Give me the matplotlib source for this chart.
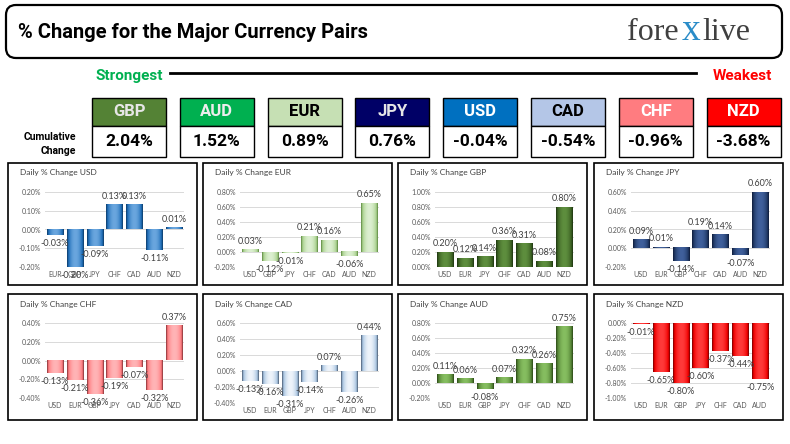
import numpy as np
import matplotlib
matplotlib.use("Agg")
import matplotlib.pyplot as plt
import matplotlib.transforms as mtransforms
from matplotlib.patches import Rectangle, FancyBboxPatch
from matplotlib.lines import Line2D
from matplotlib.colors import LinearSegmentedColormap

# ---------------- data ----------------
currencies = ["GBP", "AUD", "EUR", "JPY", "USD", "CAD", "CHF", "NZD"]
cumulative = [2.04, 1.52, 0.89, 0.76, -0.04, -0.54, -0.96, -3.68]

usd_pairs = ["EUR", "GBP", "JPY", "CHF", "CAD", "AUD", "NZD"]
usd_change = [-0.03, -0.20, -0.09, 0.13, 0.13, -0.11, 0.01]
usd_ticks = [-0.20, -0.10, 0.00, 0.10, 0.20]

eur_pairs = ["USD", "GBP", "JPY", "CHF", "CAD", "AUD", "NZD"]
eur_change = [0.03, -0.12, -0.01, 0.21, 0.16, -0.06, 0.65]
eur_ticks = [-0.20, 0.00, 0.20, 0.40, 0.60, 0.80]

gbp_pairs = ["USD", "EUR", "JPY", "CHF", "CAD", "AUD", "NZD"]
gbp_change = [0.20, 0.12, 0.14, 0.36, 0.31, 0.08, 0.80]
gbp_ticks = [0.00, 0.20, 0.40, 0.60, 0.80, 1.00]

jpy_pairs = ["USD", "EUR", "GBP", "CHF", "CAD", "AUD", "NZD"]
jpy_change = [0.09, 0.01, -0.14, 0.19, 0.14, -0.07, 0.60]
jpy_ticks = [-0.20, 0.00, 0.20, 0.40, 0.60]

chf_pairs = ["USD", "EUR", "GBP", "JPY", "CAD", "AUD", "NZD"]
chf_change = [-0.13, -0.21, -0.36, -0.19, -0.07, -0.32, 0.37]
chf_ticks = [-0.40, -0.20, 0.00, 0.20, 0.40]

cad_pairs = ["USD", "EUR", "GBP", "JPY", "CHF", "AUD", "NZD"]
cad_change = [-0.13, -0.16, -0.31, -0.14, 0.07, -0.26, 0.44]
cad_ticks = [-0.40, -0.20, 0.00, 0.20, 0.40, 0.60]

aud_pairs = ["USD", "EUR", "GBP", "JPY", "CHF", "CAD", "NZD"]
aud_change = [0.11, 0.06, -0.08, 0.07, 0.32, 0.26, 0.75]
aud_ticks = [-0.20, 0.00, 0.20, 0.40, 0.60, 0.80]

nzd_pairs = ["USD", "EUR", "GBP", "JPY", "CHF", "CAD", "AUD"]
nzd_change = [-0.01, -0.65, -0.80, -0.60, -0.37, -0.44, -0.75]
nzd_ticks = [-1.00, -0.80, -0.60, -0.40, -0.20, 0.00]

# ---------------- styles ----------------
box_colors = ["#548235", "#00B050", "#C6E0B4", "#000066",
              "#0070C0", "#B4C6E7", "#FF7C80", "#FF0000"]
box_text = ["#E6E6E6", "#EDEDED", "#000000", "#E6E6E6",
            "#FFFFFF", "#000000", "#FFFFFF", "#FFFFFF"]

NARROW = ["Liberation Sans Narrow", "Roboto", "DejaVu Sans"]
BODY = ["Lato", "DejaVu Sans"]

W, H = 790, 444
fig = plt.figure(figsize=(W / 100, H / 100), dpi=100)
fig.patch.set_facecolor("white")
# pixel coordinates with origin top-left
pix = mtransforms.Affine2D().scale(0.01, -0.01).translate(0, H / 100) + fig.dpi_scale_trans

# ---------------- header ----------------
fig.add_artist(FancyBboxPatch((6, 5), 776, 53, boxstyle="round,pad=0,rounding_size=10",
                              transform=pix, facecolor="white", edgecolor="black", lw=1.6))
fig.text(18, 32, "% Change for the Major Currency Pairs", transform=pix, family=NARROW,
         weight="bold", fontsize=14.5, va="center", ha="left", color="black")
fig.text(679, 40, "fore", transform=pix, family=["Liberation Serif"], fontsize=23,
         color="#404040", ha="right", va="baseline")
fig.text(691, 40, "x", transform=pix, family=["Liberation Serif"], fontsize=27,
         color="#2A8CC8", ha="center", va="baseline")
fig.text(702, 40, "live", transform=pix, family=["Liberation Serif"], fontsize=23,
         color="#404040", ha="left", va="baseline")

fig.text(96, 76, "Strongest", transform=pix, family=NARROW, weight="bold", fontsize=11,
         color="#00B050", ha="left", va="center")
fig.text(772, 76, "Weakest", transform=pix, family=NARROW, weight="bold", fontsize=11,
         color="#FF0000", ha="right", va="center")
fig.add_artist(Line2D([170, 696], [73, 73], transform=pix, color="black", lw=2))

fig.text(76, 137, "Cumulative", transform=pix, family=NARROW, weight="bold", fontsize=7.5,
         ha="right", va="center")
fig.text(76, 151, "Change", transform=pix, family=NARROW, weight="bold", fontsize=7.5,
         ha="right", va="center")

for i, (cur, val) in enumerate(zip(currencies, cumulative)):
    x0 = 92 + i * 87.8
    fig.add_artist(Rectangle((x0, 98), 74, 28, transform=pix, facecolor=box_colors[i],
                             edgecolor="black", lw=1))
    fig.add_artist(Rectangle((x0, 126), 74, 31, transform=pix, facecolor="white",
                             edgecolor="black", lw=1))
    fig.text(x0 + 37, 112, cur, transform=pix, family=NARROW, weight="bold", fontsize=12,
             color=box_text[i], ha="center", va="center")
    fig.text(x0 + 37, 142, f"{val:.2f}%", transform=pix, family=NARROW, weight="bold",
             fontsize=12.5, color="black", ha="center", va="center")

# ---------------- daily panels ----------------
panels = [
    ("USD", usd_pairs, usd_change, usd_ticks, ("#0A3158", "#1F6EB8", "#6AA6DE")),
    ("EUR", eur_pairs, eur_change, eur_ticks, ("#4E7A32", "#A9D18E", "#DCEFD0")),
    ("GBP", gbp_pairs, gbp_change, gbp_ticks, ("#1A2E0E", "#3A5F22", "#5E8E3E")),
    ("JPY", jpy_pairs, jpy_change, jpy_ticks, ("#0C1733", "#203864", "#40609C")),
    ("CHF", chf_pairs, chf_change, chf_ticks, ("#6E2428", "#FF7C80", "#FFB4B6")),
    ("CAD", cad_pairs, cad_change, cad_ticks, ("#3A4A60", "#A8C4E0", "#EEF4FB")),
    ("AUD", aud_pairs, aud_change, aud_ticks, ("#243F12", "#548235", "#86BE60")),
    ("NZD", nzd_pairs, nzd_change, nzd_ticks, ("#5A0000", "#F00000", "#FF3A3A")),
]
col_left = [8, 203, 398, 594]
row_top = [163, 294]
row_bottom = [285, 420]
plot_span = {"CAD": (29, 109)}

t = np.linspace(0, 1, 64)
shade = np.sin(np.pi * t) ** 0.6
shade = shade[np.newaxis, :]

for k, (name, pairs, values, ticks, cols) in enumerate(panels):
    r, c = divmod(k, 4)
    left, top, bottom = col_left[c], row_top[r], row_bottom[r]
    fig.add_artist(Rectangle((left, top), 189, bottom - top, transform=pix,
                             facecolor="white", edgecolor="black", lw=1.2, zorder=-1))
    fig.text(left + 12, top + 10, f"Daily % Change {name}", transform=pix, family=BODY,
             fontsize=6, color="#404040", ha="left", va="center")

    dt, db = plot_span.get(name, (29, 104))
    px0, px1 = left + 37, left + 176
    ax = fig.add_axes([px0 / W, 1 - (top + db) / H, (px1 - px0) / W, (db - dt) / H])
    ax.set_facecolor("none")
    cmap = LinearSegmentedColormap.from_list(name, list(cols))

    x = np.arange(len(pairs))
    bars = ax.bar(x, values, width=0.82, color="none", edgecolor="none", zorder=2)
    for b in bars:
        bx, bw = b.get_x(), b.get_width()
        y0, y1 = sorted([b.get_y(), b.get_y() + b.get_height()])
        ax.imshow(shade, extent=[bx, bx + bw, y0, y1], aspect="auto", cmap=cmap,
                  vmin=0, vmax=1, zorder=2, interpolation="bilinear")
    for xi, v in zip(x, values):
        off = 6 if v >= 0 else -6
        ax.annotate(f"{v:.2f}%", (xi, v), xytext=(0, off), textcoords="offset points",
                    ha="center", va="center", fontsize=6.5, family=BODY, color="#404040",
                    zorder=4, annotation_clip=False)

    ax.set_xlim(-0.5, len(pairs) - 0.5)
    ax.set_ylim(ticks[0], ticks[-1])
    ax.set_yticks(ticks)
    ax.set_yticklabels([f"{tv:.2f}%" for tv in ticks])
    ax.set_xticks(x)
    ax.set_xticklabels(pairs)
    ax.yaxis.grid(True, color="#D9D9D9", lw=0.7)
    ax.set_axisbelow(True)
    for s in ax.spines.values():
        s.set_visible(False)
    ax.tick_params(length=0, labelsize=5, labelcolor="#595959", pad=3)
    for lab in ax.get_xticklabels() + ax.get_yticklabels():
        lab.set_family(BODY)

fig.savefig("out.png", dpi=100, facecolor="white")
